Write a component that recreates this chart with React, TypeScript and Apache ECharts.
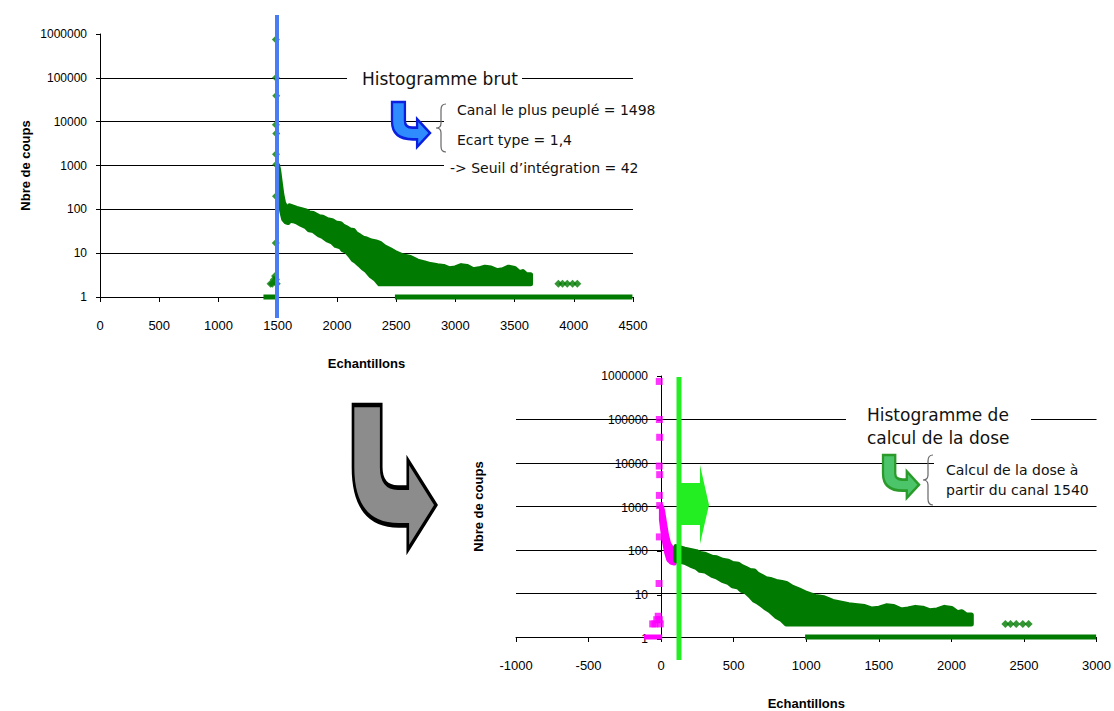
import React, { useEffect, useRef } from "react";
import * as echarts from "echarts";

// ---------- DATA (channel numbers of the raw histogram) ----------
const SHIFT = 1498; // most populated channel: origin of the dose histogram
const SPLIT = 1598; // points left of this are drawn magenta on the dose histogram

const topXTicks = { min: 0, max: 4500, interval: 500 };
const bottomXTicks = { min: -1000, max: 3000, interval: 500 };
const yRange = { min: 1, max: 1000000 };

// isolated points of the main peak
const peakX = [1485, 1486, 1488, 1485, 1488, 1486, 1488, 1486, 1484];
const peakY = [750000, 100000, 39000, 8500, 5400, 1800, 1050, 200, 17];
// low counts left of the peak
const lowX = [1440, 1455, 1468, 1478, 1486, 1492];
const lowY = [2, 2, 2.5, 3, 2.5, 2];
// steep fall right after the peak (cloud envelope)
const clusterX = [1500, 1508, 1520, 1535, 1550, 1570, 1590, 1600];
const clusterHigh = [1000, 800, 450, 220, 140, 110, 100, 115];
const clusterLow = [500, 300, 160, 90, 60, 52, 50, 57];
// decaying tail (cloud envelope)
const tailX = [1600, 1630, 1660, 1700, 1740, 1765, 1800, 1850, 1880, 1920, 1960, 1990, 2030, 2050, 2080, 2110, 2140, 2160, 2190, 2220, 2250, 2290, 2330, 2360, 2400, 2450, 2500, 2560, 2620, 2680, 2740, 2790, 2850, 2900, 2950, 3000, 3050, 3100, 3150, 3200, 3250, 3300, 3350, 3400, 3450, 3500, 3540, 3570, 3600, 3635];
const tailHigh = [120, 112, 105, 98, 92, 83, 80, 68, 66, 58, 55, 49, 47, 42, 38, 34, 33, 28, 25, 22, 21, 19, 18, 17, 14, 12, 10, 8.6, 8, 6.6, 6, 5.5, 5.2, 5, 4.4, 4.6, 5.2, 5, 4.2, 4.4, 4.8, 4.6, 4, 4.2, 4.8, 4.5, 3.6, 3.8, 3.2, 3.2];
const tailLow = [57, 55, 52, 45, 40, 34, 33, 26, 24, 20, 18, 15, 14, 12, 11, 9, 7, 6.5, 5.5, 4.6, 4, 3, 2.5, 2, 2, 2, 2, 2, 2, 2, 2, 2, 2, 2, 2, 2, 2, 2, 2, 2, 2, 2, 2, 2, 2, 2, 2, 2, 2, 2];
// single counts
const onesNearX = [1380, 1505];
const onesFarX = [2490, 4495];
// stray points
const strayX = [3870, 3905, 3945, 3990, 4030];
const strayY = [2, 2, 2, 2, 2];

const GREEN = "#007a00";
const MAGENTA = "#ff00ff";
const FONT = "Liberation Sans, Arial, sans-serif";
const TFONT = "DejaVu Sans, Verdana, sans-serif";

// ---------- shapes ----------
echarts.graphic.registerShape(
  "bentArrow",
  echarts.graphic.extendPath(
    "M0 0 L34 0 L34 43 Q34 57 54 57 L66 57 L66 38 L100 69 L66 100 L66 83 L55 83 Q0 83 0 43 Z",
    {}
  )
);
echarts.graphic.registerShape(
  "brace",
  echarts.graphic.extendPath(
    "M10 0 Q5 0 5 6 L5 20 Q5 25 0 25 Q5 25 5 30 L5 44 Q5 50 10 50",
    {}
  )
);

function band(xs: number[], hi: number[], lo: number[]) {
  const pts: number[][] = [];
  xs.forEach((x, i) => pts.push([x, hi[i]]));
  for (let i = xs.length - 1; i >= 0; i--) pts.push([xs[i], lo[i]]);
  return pts;
}

function polySeries(pts: number[][], color: string, idx: number, shift: number) {
  const data = pts.map(([x, y]) => [x - shift, y]);
  return {
    type: "custom",
    coordinateSystem: "cartesian2d",
    xAxisIndex: idx,
    yAxisIndex: idx,
    clip: false,
    silent: true,
    z: 3,
    data,
    renderItem: (params: any, api: any) => {
      if (params.dataIndex !== 0) return null;
      const points = data.map((d) => api.coord(d));
      return {
        type: "polygon",
        shape: { points },
        style: { fill: color, stroke: color, lineWidth: 5, lineJoin: "round" },
      };
    },
  };
}

function scatterSeries(xs: number[], ys: number[], color: string, idx: number, shift: number, symbol: string, size: number) {
  return {
    type: "scatter",
    xAxisIndex: idx,
    yAxisIndex: idx,
    symbol,
    symbolSize: size,
    itemStyle: { color },
    clip: false,
    silent: true,
    z: 4,
    data: xs.map((x, i) => [x - shift, ys[i]]),
  };
}

function onesSeries(xs: number[], color: string, idx: number, shift: number) {
  return {
    type: "line",
    xAxisIndex: idx,
    yAxisIndex: idx,
    symbol: "none",
    clip: false,
    silent: true,
    z: 3,
    lineStyle: { color, width: 5 },
    data: xs.map((x) => [x - shift, 1]),
  };
}

function xAxis(gridIndex: number, t: { min: number; max: number; interval: number }) {
  return {
    gridIndex,
    type: "value",
    min: t.min,
    max: t.max,
    interval: t.interval,
    name: "Echantillons",
    nameLocation: "middle",
    nameGap: 60,
    nameMoveOverlap: false,
    nameTextStyle: { fontFamily: FONT, fontWeight: "bold", fontSize: 13, color: "#000", verticalAlign: "top" },
    axisLine: { show: true, onZero: false, lineStyle: { color: "#000", width: 1 } },
    axisTick: { show: true, length: 5, lineStyle: { color: "#000" } },
    axisLabel: { fontFamily: FONT, fontSize: 13, color: "#000", margin: 22, formatter: (v: number) => String(v) },
    splitLine: { show: false },
  };
}

function yAxis(gridIndex: number, opts: { name?: boolean; nameGap?: number; line?: boolean; split?: boolean }) {
  return {
    gridIndex,
    type: "log",
    logBase: 10,
    min: yRange.min,
    max: yRange.max,
    splitNumber: 6,
    name: opts.name ? "Nbre de coups" : "",
    nameLocation: "middle",
    nameGap: opts.nameGap ?? 0,
    nameMoveOverlap: false,
    nameTextStyle: { fontFamily: FONT, fontWeight: "bold", fontSize: 13, color: "#000" },
    axisLine: { show: !!opts.line, onZero: false, lineStyle: { color: "#000", width: 1 } },
    axisTick: { show: !!opts.line, length: 4, lineStyle: { color: "#000" } },
    axisLabel: {
      show: !!opts.line,
      fontFamily: FONT,
      fontSize: 12,
      color: "#000",
      margin: 13,
      formatter: (v: number) => String(Math.round(v)),
    },
    splitLine: {
      show: !!opts.split,
      showMaxLine: false,
      showMinLine: false,
      lineStyle: { color: "#000", width: 1 },
    },
  };
}

const txt = (text: string, x: number, y: number, size: number, extra: any = {}) => ({
  type: "text",
  x,
  y,
  z: 101,
  style: { text, fill: "#111", font: `${size}px ${TFONT}`, textVerticalAlign: "middle", ...extra },
});

const white = (x: number, y: number, w: number, h: number) => ({
  type: "rect",
  z: 100,
  shape: { x, y, width: w, height: h },
  style: { fill: "#fff" },
});

export default function App() {
  const ref = useRef<HTMLDivElement>(null);
  useEffect(() => {
    const chart = echarts.init(ref.current!, undefined, { renderer: "svg" });
    const clusterPts = band(clusterX, clusterHigh, clusterLow);
    const tailPts = band(tailX, tailHigh, tailLow);
    const option: any = {
      animation: false,
      backgroundColor: "#fff",
      textStyle: { fontFamily: FONT },
      grid: [
        { left: 100, top: 34, width: 533, height: 263 },
        { left: 516, top: 376, width: 583, height: 263 },
        // y axis of the dose histogram sits at x = 0
        { left: 661, top: 376, width: 438, height: 263 },
      ],
      xAxis: [
        xAxis(0, topXTicks),
        xAxis(1, bottomXTicks),
        { gridIndex: 2, type: "value", min: 0, max: bottomXTicks.max, show: false },
      ],
      yAxis: [
        yAxis(0, { name: true, nameGap: 68, line: true, split: true }),
        yAxis(1, { name: true, nameGap: 31, line: false, split: true }),
        yAxis(2, { line: true, split: false }),
      ],
      series: [
        // raw histogram
        polySeries(clusterPts, GREEN, 0, 0),
        polySeries(tailPts, GREEN, 0, 0),
        onesSeries(onesNearX, GREEN, 0, 0),
        onesSeries(onesFarX, GREEN, 0, 0),
        scatterSeries(peakX, peakY, GREEN, 0, 0, "diamond", 8),
        scatterSeries(lowX, lowY, GREEN, 0, 0, "diamond", 8),
        scatterSeries(strayX, strayY, GREEN, 0, 0, "diamond", 8),
        // dose histogram
        polySeries(clusterPts.filter((p) => p[0] <= SPLIT + 2), MAGENTA, 1, SHIFT),
        polySeries(tailPts, GREEN, 1, SHIFT),
        onesSeries(onesNearX, MAGENTA, 1, SHIFT),
        onesSeries(onesFarX, GREEN, 1, SHIFT),
        scatterSeries(peakX, peakY, MAGENTA, 1, SHIFT, "rect", 7),
        scatterSeries(lowX, lowY, MAGENTA, 1, SHIFT, "rect", 7),
        scatterSeries(strayX, strayY, GREEN, 1, SHIFT, "diamond", 8),
      ],
      graphic: [
        // top annotations
        white(347, 66, 175, 24),
        txt("Histogramme brut", 362, 79, 17),
        white(444, 96, 196, 84),
        txt("Canal le plus peuplé = 1498", 457, 110, 14),
        txt("Ecart type = 1,4", 457, 140, 14),
        txt("-> Seuil d\u2019intégration = 42", 450, 168, 14),
        {
          type: "brace",
          x: 436,
          y: 104,
          scaleX: 1,
          scaleY: 0.96,
          z: 102,
          style: { fill: "none", stroke: "#666", lineWidth: 1.2, strokeNoScale: true },
        },
        {
          type: "bentArrow",
          x: 392,
          y: 102,
          scaleX: 0.38,
          scaleY: 0.45,
          z: 102,
          style: { fill: "#2f8cff", stroke: "#0a1fe0", lineWidth: 2.5, strokeNoScale: true },
        },
        {
          type: "line",
          z: 90,
          shape: { x1: 277, y1: 15, x2: 277, y2: 318 },
          style: { stroke: "#4a7cf4", lineWidth: 4 },
        },
        // transition arrow
        {
          type: "bentArrow",
          x: 353,
          y: 405,
          scaleX: 0.83,
          scaleY: 1.45,
          z: 102,
          style: { fill: "#8c8c8c", stroke: "#000", lineWidth: 3.5, strokeNoScale: true, lineJoin: "miter" },
        },
        // bottom annotations
        white(846, 398, 185, 54),
        txt("Histogramme de", 867, 415, 17),
        txt("calcul de la dose", 867, 438, 17),
        white(934, 455, 180, 46),
        txt("Calcul de la dose à", 946, 470, 14),
        txt("partir du canal 1540", 946, 490, 14),
        {
          type: "brace",
          x: 923,
          y: 455,
          z: 102,
          style: { fill: "none", stroke: "#666", lineWidth: 1.2, strokeNoScale: true },
        },
        {
          type: "bentArrow",
          x: 883,
          y: 455,
          scaleX: 0.36,
          scaleY: 0.43,
          z: 102,
          style: { fill: "#4cc46a", stroke: "#2a9a2a", lineWidth: 2.5, strokeNoScale: true },
        },
        {
          type: "line",
          z: 90,
          shape: { x1: 679, y1: 377, x2: 679, y2: 660 },
          style: { stroke: "#22ee22", lineWidth: 5 },
        },
        {
          type: "polygon",
          z: 91,
          shape: {
            points: [
              [681, 483],
              [700, 483],
              [700, 465],
              [709, 505],
              [700, 544],
              [700, 525],
              [681, 525],
            ],
          },
          style: { fill: "#22ee22" },
        },
      ],
    };
    chart.setOption(option);
    return () => chart.dispose();
  }, []);
  return (
    <div
      ref={ref}
      style={{ position: "fixed", left: 0, top: 0, width: 1114, height: 711, background: "#fff" }}
    />
  );
}
